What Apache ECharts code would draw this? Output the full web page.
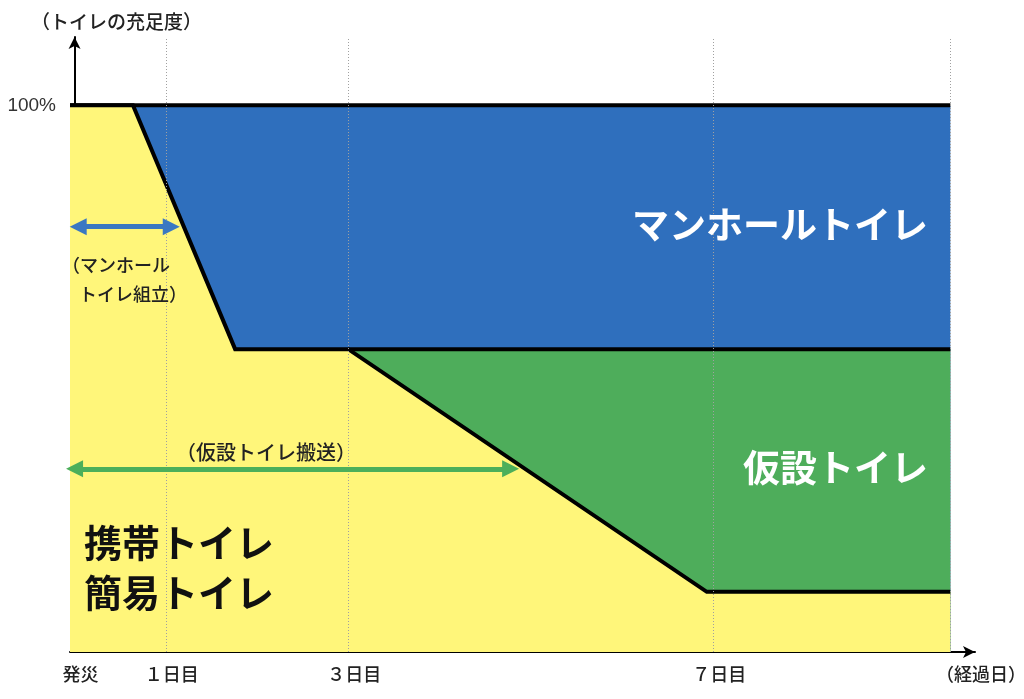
<!DOCTYPE html>
<html lang="ja">
<head>
<meta charset="utf-8">
<title>トイレの充足度</title>
<script src="https://cdn.jsdelivr.net/npm/echarts@6/dist/echarts.min.js"></script>
<style>
  html, body { margin: 0; padding: 0; background: #fff; }
  #chart { width: 1024px; height: 699px; }
</style>
</head>
<body>
<div id="chart"></div>
<script>
// 経過日（発災 = 0）
const dayTicks = [0, 1, 3, 7];
const dayLabels = ['発災', '１日目', '３日目', '７日目'];
const endLabel = '（経過日）';
const guideDays = [1, 3, 7, 9.6];

// 境界線 [経過日, 充足度%]
const portableLine = [[-0.05, 100], [0.64, 100], [1.76, 55.4], [3, 55.4], [6.93, 11], [9.6, 11]];
const tempLine = [[3, 55.4], [9.6, 55.4]];
const manholeLine = [[-0.05, 100], [9.6, 100]];

// 期間の矢印
const assembleSpan = [[0.04, 77.8], [1.06, 77.8]];
const transportSpan = [[0.0, 33.5], [4.78, 33.5]];

const FONT = '"Noto Sans CJK JP", "Noto Sans", sans-serif';
const COLORS = {
  yellow: '#fff67a',
  blue: '#2f6fbd',
  green: '#4ead5b',
  arrowBlue: '#3a78c2',
  arrowGreen: '#4caf5a'
};

const chart = echarts.init(document.getElementById('chart'), null, { renderer: 'canvas' });

const border = { color: '#000', width: 4, join: 'miter', cap: 'butt' };

const areaSeries = (name, data, color, z) => ({
  name,
  type: 'line',
  data,
  z,
  symbol: 'none',
  silent: true,
  lineStyle: border,
  areaStyle: { color, opacity: 1, origin: 'start' }
});

const spanArrow = (span, color) => [
  { coord: span[0] },
  { coord: span[1], lineStyle: { color, width: 5, type: 'solid' } }
];

// 図中の文字
const label = (text, x, y, font, fill, align) => ({
  type: 'text', x, y, z: 100, silent: true,
  style: { text, font: font + ' ' + FONT, fill, align, verticalAlign: 'middle' }
});

chart.setOption({
  animation: false,
  textStyle: { fontFamily: FONT },
  grid: { left: 70, right: 49, top: 37, bottom: 47, containLabel: false, outerBoundsMode: 'none' },
  xAxis: {
    type: 'value',
    min: -0.05,
    max: 9.87,
    axisLine: {
      show: true,
      symbol: ['none', 'arrow'],
      symbolSize: [9, 12],
      lineStyle: { color: '#000', width: 2 }
    },
    axisTick: { show: false },
    splitLine: { show: false },
    axisLabel: {
      customValues: [...dayTicks, 9.87],
      formatter: v => {
        const i = dayTicks.indexOf(v);
        return i >= 0 ? dayLabels[i] : endLabel;
      },
      fontSize: 18,
      fontWeight: 500,
      color: '#222',
      margin: 13,
      padding: [0, 0, 0, 12]
    }
  },
  yAxis: {
    type: 'value',
    min: 0,
    max: 112.5,
    name: '（トイレの充足度）',
    nameLocation: 'end',
    nameGap: 6,
    nameTextStyle: { fontSize: 19, fontWeight: 500, color: '#222', padding: [0, 0, 0, 84] },
    axisLine: {
      show: true,
      symbol: ['none', 'arrow'],
      symbolSize: [9, 12],
      lineStyle: { color: '#000', width: 2 }
    },
    axisTick: { show: false },
    splitLine: { show: false },
    axisLabel: {
      customValues: [100],
      formatter: '{value}%',
      fontFamily: '"Liberation Sans", Arial, sans-serif',
      fontSize: 19,
      color: '#333',
      margin: 14,
      padding: [12, 0, 0, 0]
    }
  },
  series: [
    areaSeries('マンホールトイレ', manholeLine, COLORS.blue, 1),
    areaSeries('仮設トイレ', tempLine, COLORS.green, 2),
    areaSeries('携帯トイレ・簡易トイレ', portableLine, COLORS.yellow, 3),
    {
      // 日付の補助線
      name: 'guides',
      type: 'line',
      data: [],
      z: 5,
      silent: true,
      markLine: {
        silent: true,
        symbol: 'none',
        label: { show: false },
        lineStyle: { color: '#a0a0a0', width: 1, type: [1, 2] },
        data: guideDays.map(d => ({ xAxis: d }))
      }
    },
    {
      // 期間の矢印
      name: 'spans',
      type: 'line',
      data: [],
      z: 6,
      silent: true,
      markLine: {
        silent: true,
        symbol: ['triangle', 'triangle'],
        symbolSize: 17,
        label: { show: false },
        lineStyle: { width: 5, type: 'solid' },
        data: [
          spanArrow(assembleSpan, COLORS.arrowBlue),
          spanArrow(transportSpan, COLORS.arrowGreen)
        ]
      }
    }
  ],
  graphic: [
    label('マンホールトイレ', 928, 225, 'bold 37px', '#fff', 'right'),
    label('仮設トイレ', 928, 468, 'bold 37px', '#fff', 'right'),
    label('携帯トイレ', 84, 543, 'bold 38px', '#111', 'left'),
    label('簡易トイレ', 84, 593, 'bold 38px', '#111', 'left'),
    label('（マンホール', 62, 265, '500 18px', '#222', 'left'),
    label('トイレ組立）', 79, 294, '500 18px', '#222', 'left'),
    label('（仮設トイレ搬送）', 266, 452, '500 20px', '#222', 'center')
  ]
});

window.addEventListener('resize', () => chart.resize());
</script>
</body>
</html>
